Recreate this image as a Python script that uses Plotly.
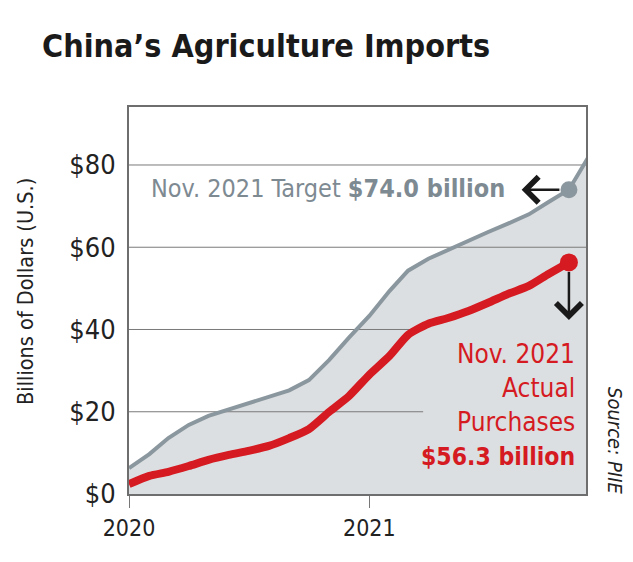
import pandas as pd
import plotly.graph_objects as go

# ---- data ----
months = pd.date_range("2020-01-01", "2021-12-01", freq="MS")
target = [6.3, 9.7, 13.6, 16.8, 19.0, 20.6, 22.1, 23.6, 25.2, 27.7, 32.6, 38.0,
          43.3, 49.4, 54.3, 57.2, 59.4, 61.7, 63.7, 65.8, 68.0, 71.0, 74.0, 82.0]
actual = [2.4, 4.4, 5.4, 6.8, 8.3, 9.5, 10.5, 11.7, 13.6, 15.8, 20.0, 23.8,
          29.0, 33.6, 38.7, 41.4, 42.8, 44.5, 46.5, 48.7, 50.6, 53.5, 56.3]
y_ticks = [0, 20, 40, 60, 80]
y_tick_labels = ["$0", "$20", "$40", "$60", "$80"]
x_ticks = ["2020-01-01", "2021-01-01"]
x_tick_labels = ["2020", "2021"]
grid_values = [20, 40, 60, 80]

# ---- styling / layout constants ----
FONT = "DejaVu Sans Condensed, Roboto, sans-serif"
X_RANGE = ["2020-01-01", "2021-11-27"]
Y_RANGE = [0, 94.1]
GRID_SHORT_END = "2021-03-24"
FILL = "#dcdfe1"
GRAY = "#8b979e"
GRAY_TEXT = "#7e8a92"
RED = "#d51a21"
INK = "#222222"

idx = len(actual) - 1  # Nov 2021
nov = months[idx]

fig = go.Figure()

# gray area under target
fig.add_trace(go.Scatter(x=months, y=target, mode="lines", line=dict(width=0),
                         fill="tozeroy", fillcolor=FILL, hoverinfo="skip"))
# gridlines (drawn over the fill, under the lines)
for v in grid_values:
    end = GRID_SHORT_END if v <= 40 else X_RANGE[1]
    fig.add_trace(go.Scatter(x=[X_RANGE[0], end], y=[v, v], mode="lines",
                             line=dict(color="#7a7a7a", width=1), hoverinfo="skip"))
# target line
fig.add_trace(go.Scatter(x=months, y=target, mode="lines",
                         line=dict(color=GRAY, width=4)))
# actual line
fig.add_trace(go.Scatter(x=months[:len(actual)], y=actual, mode="lines",
                         line=dict(color=RED, width=8, shape="spline", smoothing=0.6)))
# end dots
fig.add_trace(go.Scatter(x=[nov], y=[target[idx]], mode="markers",
                         marker=dict(color=GRAY, size=17)))
fig.add_trace(go.Scatter(x=[nov], y=[actual[idx]], mode="markers",
                         marker=dict(color=RED, size=18)))

def px(xp):
    return (xp - 129) / 457

def py(yp):
    return (494 - yp) / 387

ann = []
# title
ann.append(dict(text="<b>China’s Agriculture Imports</b>", x=px(266), y=py(46),
                xref="paper", yref="paper", showarrow=False,
                font=dict(family=FONT, size=32, color="#1a1a1a"),
                xanchor="center", yanchor="middle"))
# y-axis title
ann.append(dict(text="Billions of Dollars (U.S.)", x=px(25), y=py(292),
                xref="paper", yref="paper", showarrow=False, textangle=-90,
                font=dict(family=FONT, size=21.5, color=INK),
                xanchor="center", yanchor="middle"))
# source
ann.append(dict(text="<i>Source: PIIE</i>", x=px(615), y=py(440),
                xref="paper", yref="paper", showarrow=False, textangle=90,
                font=dict(family=FONT, size=20, color=INK),
                xanchor="center", yanchor="middle"))
# target label
ann.append(dict(text="Nov. 2021 Target <b>$74.0 billion</b>", x=px(507), y=py(188),
                xref="paper", yref="paper", showarrow=False,
                font=dict(family=FONT, size=25, color=GRAY_TEXT),
                xanchor="right", yanchor="middle"))
# actual label lines
red_lines = ["Nov. 2021", "Actual", "Purchases", "<b>$56.3 billion</b>"]
red_sizes = [26, 26, 26, 24.5]
for i, t in enumerate(red_lines):
    ann.append(dict(text=t, x=px(577), y=py(354 + 34 * i),
                    xref="paper", yref="paper", showarrow=False,
                    font=dict(family=FONT, size=red_sizes[i], color=RED),
                    xanchor="right", yanchor="middle"))
# arrows
ann.append(dict(x=nov - pd.Timedelta(days=72), y=target[idx], ax=nov, ay=target[idx],
                xref="x", yref="y", axref="x", ayref="y", text="", showarrow=True,
                arrowhead=4, arrowsize=2, arrowwidth=2.5, arrowcolor="#1a1a1a",
                standoff=0, startstandoff=8))
ann.append(dict(x=nov, y=actual[idx] - 14, ax=nov, ay=actual[idx],
                xref="x", yref="y", axref="x", ayref="y", text="", showarrow=True,
                arrowhead=4, arrowsize=2, arrowwidth=2.5, arrowcolor="#1a1a1a",
                standoff=0, startstandoff=8))

fig.update_layout(
    width=633, height=562,
    margin=dict(l=129, r=47, t=107, b=68, pad=0),
    paper_bgcolor="white", plot_bgcolor="white",
    showlegend=False,
    annotations=ann,
    font=dict(family=FONT, color=INK),
)
fig.update_xaxes(range=X_RANGE, type="date", showgrid=False, zeroline=False,
                 tickvals=x_ticks, ticktext=x_tick_labels,
                 ticks="outside", ticklen=12, tickwidth=1, tickcolor="#777",
                 tickfont=dict(family=FONT, size=23, color=INK),
                 showline=True, linecolor="#6e6e6e", linewidth=2, mirror=True)
fig.update_yaxes(range=Y_RANGE, showgrid=False, zeroline=False,
                 tickvals=y_ticks, ticktext=y_tick_labels, ticks="",
                 ticklabelstandoff=6,
                 tickfont=dict(family=FONT, size=27, color=INK),
                 showline=True, linecolor="#6e6e6e", linewidth=2, mirror=True)

fig.write_html("out.html")
